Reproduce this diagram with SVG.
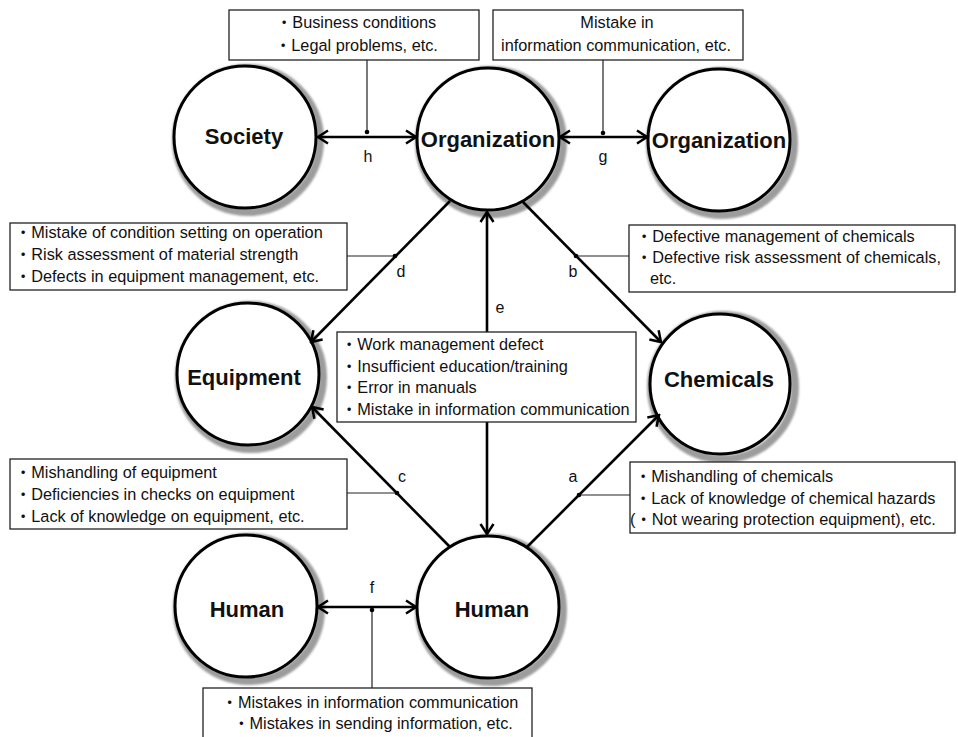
<svg xmlns="http://www.w3.org/2000/svg" width="958" height="737" viewBox="0 0 958 737">
  <defs>
    <style>
      .txt { font-family: "Liberation Sans", "Noto Sans CJK JP", sans-serif; font-size: 16.3px; fill: #111; }
      .node-label { font-family: "Liberation Sans", Arial, sans-serif; font-size: 22px; font-weight: bold; fill: #111; text-anchor: middle; }
      .ring { fill: #fff; stroke: #000; stroke-width: 3; }
      .halo { fill: none; stroke: #9c9c9c; stroke-width: 8; filter: url(#soft); }
      .box { fill: #fff; stroke: #222; stroke-width: 1.3; }
      .link { fill: none; stroke: #000; stroke-width: 2.6; }
      .lead { fill: none; stroke: #222; stroke-width: 1.2; }
      .tag { font-family: "Liberation Sans", Arial, sans-serif; font-size: 16px; fill: #111; text-anchor: middle; }
    </style>
    <filter id="soft" x="-20%" y="-20%" width="140%" height="140%">
      <feGaussianBlur stdDeviation="1.2"/>
    </filter>
    <marker id="chev" markerUnits="userSpaceOnUse" viewBox="0 0 14 16" markerWidth="14" markerHeight="16" refX="12" refY="8" orient="auto-start-reverse">
      <path d="M2,1.5 L12,8 L2,14.5" fill="none" stroke="#000" stroke-width="2.5" stroke-linejoin="miter"/>
    </marker>
  </defs>

  <rect width="958" height="737" fill="#fff"/>

  <!-- nodes -->
  <g id="society">
    <circle class="halo" cx="248" cy="140" r="72"/>
    <circle class="ring" cx="245" cy="137" r="71"/>
    <text class="node-label" x="244" y="144">Society</text>
  </g>
  <g id="organization">
    <circle class="halo" cx="491" cy="142" r="72"/>
    <circle class="ring" cx="488" cy="139" r="71"/>
    <text class="node-label" x="488" y="147">Organization</text>
  </g>
  <g id="organization-2">
    <circle class="halo" cx="722" cy="143" r="72"/>
    <circle class="ring" cx="719" cy="140" r="71"/>
    <text class="node-label" x="719" y="148">Organization</text>
  </g>
  <g id="equipment">
    <circle class="halo" cx="251" cy="377" r="72"/>
    <circle class="ring" cx="248" cy="374" r="71"/>
    <text class="node-label" x="244" y="385">Equipment</text>
  </g>
  <g id="chemicals">
    <circle class="halo" cx="723" cy="387" r="72"/>
    <circle class="ring" cx="720" cy="384" r="70"/>
    <text class="node-label" x="719" y="387">Chemicals</text>
  </g>
  <g id="human-left">
    <circle class="halo" cx="249" cy="609" r="72"/>
    <circle class="ring" cx="246" cy="606" r="71"/>
    <text class="node-label" x="247" y="617">Human</text>
  </g>
  <g id="human">
    <circle class="halo" cx="491" cy="610" r="72"/>
    <circle class="ring" cx="488" cy="607" r="71"/>
    <text class="node-label" x="492" y="617">Human</text>
  </g>

  <!-- connectors -->
  <g id="connectors">
    <!-- h: Society <-> Organization -->
    <line class="link" x1="318" y1="137" x2="416" y2="137" marker-start="url(#chev)" marker-end="url(#chev)"/>
    <!-- g: Organization <-> Organization -->
    <line class="link" x1="560" y1="137" x2="647" y2="137" marker-start="url(#chev)" marker-end="url(#chev)"/>
    <!-- f: Human <-> Human -->
    <line class="link" x1="318" y1="607" x2="416" y2="607" marker-start="url(#chev)" marker-end="url(#chev)"/>
    <!-- e: Organization <-> Human -->
    <line class="link" x1="487" y1="212" x2="487" y2="534" marker-start="url(#chev)" marker-end="url(#chev)"/>
    <!-- d: Organization -> Equipment -->
    <line class="link" x1="450" y1="201" x2="311" y2="342" marker-end="url(#chev)"/>
    <!-- b: Organization -> Chemicals -->
    <line class="link" x1="522" y1="201" x2="661" y2="342" marker-end="url(#chev)"/>
    <!-- c: Human -> Equipment -->
    <line class="link" x1="450" y1="547" x2="312" y2="407" marker-end="url(#chev)"/>
    <!-- a: Human -> Chemicals -->
    <line class="link" x1="527" y1="547" x2="659" y2="415" marker-end="url(#chev)"/>

    <!-- leader lines from the cause boxes -->
    <line class="lead" x1="367" y1="60" x2="367" y2="132"/>
    <circle cx="367" cy="132" r="2.3" fill="#000"/>
    <line class="lead" x1="603" y1="60" x2="603" y2="133"/>
    <circle cx="603" cy="133" r="2.3" fill="#000"/>
    <line class="lead" x1="347" y1="256" x2="395" y2="256"/>
    <circle cx="395" cy="256" r="2.3" fill="#000"/>
    <line class="lead" x1="576" y1="256" x2="629" y2="256"/>
    <circle cx="576" cy="256" r="2.3" fill="#000"/>
    <line class="lead" x1="347" y1="493" x2="397" y2="493"/>
    <circle cx="397" cy="493" r="2.3" fill="#000"/>
    <line class="lead" x1="579" y1="495" x2="630" y2="495"/>
    <circle cx="579" cy="495" r="2.3" fill="#000"/>
    <line class="lead" x1="372" y1="610" x2="372" y2="688"/>
    <circle cx="372" cy="610" r="2.3" fill="#000"/>

    <!-- letters -->
    <text class="tag" x="368" y="162">h</text>
    <text class="tag" x="603" y="162">g</text>
    <text class="tag" x="401" y="277">d</text>
    <text class="tag" x="573" y="277">b</text>
    <text class="tag" x="500" y="313">e</text>
    <text class="tag" x="402" y="482">c</text>
    <text class="tag" x="573" y="482">a</text>
    <text class="tag" x="372" y="593">f</text>
  </g>

  <!-- cause boxes -->
  <g id="box-h">
    <rect class="box" x="229" y="10" width="250" height="50"/>
    <text class="txt" x="276" y="28">・Business conditions</text>
    <text class="txt" x="275" y="51">・Legal problems, etc.</text>
  </g>
  <g id="box-g">
    <rect class="box" x="493" y="10" width="250" height="50"/>
    <text class="txt" x="617" y="28" text-anchor="middle">Mistake in</text>
    <text class="txt" x="616" y="51" text-anchor="middle">information communication, etc.</text>
  </g>
  <g id="box-d">
    <rect class="box" x="10" y="223" width="337" height="67"/>
    <text class="txt" x="15" y="238">・Mistake of condition setting on operation</text>
    <text class="txt" x="15" y="260">・Risk assessment of material strength</text>
    <text class="txt" x="15" y="282">・Defects in equipment management, etc.</text>
  </g>
  <g id="box-b">
    <rect class="box" x="629" y="225" width="326" height="67"/>
    <text class="txt" x="636" y="242">・Defective management of chemicals</text>
    <text class="txt" x="636" y="263">・Defective risk assessment of chemicals,</text>
    <text class="txt" x="650" y="284">etc.</text>
  </g>
  <g id="box-e">
    <rect class="box" x="337" y="332" width="299" height="90"/>
    <text class="txt" x="341" y="350">・Work management defect</text>
    <text class="txt" x="341" y="372">・Insufficient education/training</text>
    <text class="txt" x="341" y="393">・Error in manuals</text>
    <text class="txt" x="341" y="415">・Mistake in information communication</text>
  </g>
  <g id="box-c">
    <rect class="box" x="10" y="459" width="337" height="70"/>
    <text class="txt" x="15" y="478">・Mishandling of equipment</text>
    <text class="txt" x="15" y="500">・Deficiencies in checks on equipment</text>
    <text class="txt" x="15" y="522">・Lack of knowledge on equipment, etc.</text>
  </g>
  <g id="box-a">
    <rect class="box" x="630" y="462" width="325" height="71"/>
    <text class="txt" x="635" y="482">・Mishandling of chemicals</text>
    <text class="txt" x="635" y="504">・Lack of knowledge of chemical hazards</text>
    <text class="txt" x="630" y="525">(・Not wearing protection equipment), etc.</text>
  </g>
  <g id="box-f">
    <rect class="box" x="203" y="688" width="329" height="52"/>
    <text class="txt" x="370" y="708" text-anchor="middle">・Mistakes in information communication</text>
    <text class="txt" x="373" y="729" text-anchor="middle">・Mistakes in sending information, etc.</text>
  </g>
</svg>
